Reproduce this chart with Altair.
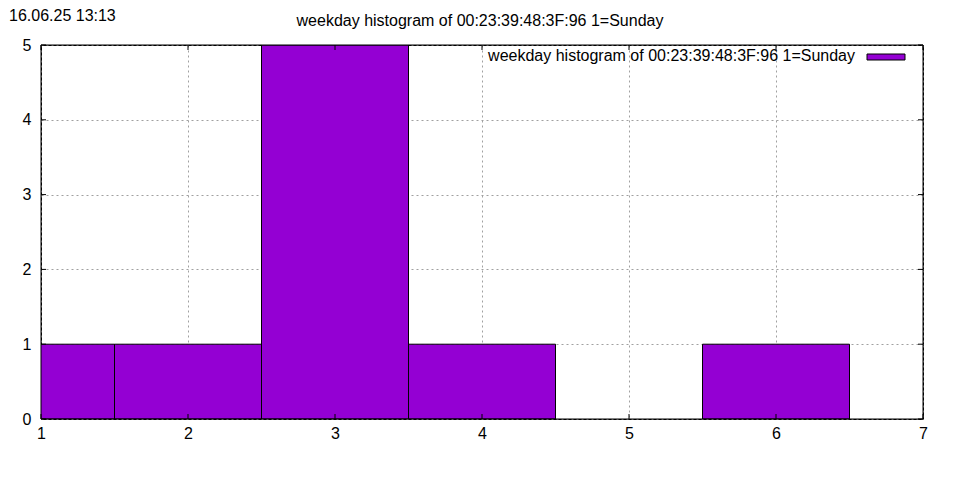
import altair as alt
import pandas as pd

weekdays = [1, 2, 3, 4, 5, 6, 7]
counts = [1, 1, 5, 1, 0, 1, 0]
x_ticks = [1, 2, 3, 4, 5, 6, 7]
y_ticks = [0, 1, 2, 3, 4, 5]
title_text = "weekday histogram of 00:23:39:48:3F:96 1=Sunday"
stamp_text = "16.06.25 13:13"

W, H = 882, 374
FONT = "Liberation Sans"
PURPLE = "#9400d3"

bars = pd.DataFrame({"day": weekdays, "count": counts})
bars = bars[bars["count"] > 0]

xs = alt.Scale(domain=[1, 7], nice=False, zero=False)
ys = alt.Scale(domain=[0, 5], nice=False)

base_x_axis = alt.Axis(values=x_ticks, format="d", title=None, labelFont=FONT, labelFontSize=16,
                       labelColor="black", ticks=False, domain=False, labelPadding=6,
                       labelFlush=False, labelOverlap=False,
                       grid=True, gridColor="#a0a0a0", gridDash=[2, 3], gridWidth=1)
base_y_axis = alt.Axis(values=y_ticks, format="d", title=None, labelFont=FONT, labelFontSize=16,
                       labelColor="black", ticks=False, domain=False, labelPadding=10,
                       labelFlush=False, labelOverlap=False,
                       grid=True, gridColor="#a0a0a0", gridDash=[2, 3], gridWidth=1)

bar_layer = alt.Chart(bars).transform_calculate(
    x0="datum.day - 0.5", x1="datum.day + 0.5"
).mark_rect(color=PURPLE, stroke="black", strokeWidth=1, clip=True).encode(
    x=alt.X("x0:Q", scale=xs, axis=base_x_axis),
    x2="x1:Q",
    y=alt.Y("count:Q", scale=ys, axis=base_y_axis),
    y2=alt.datum(0),
)

xt = pd.DataFrame({"v": x_ticks})
yt = pd.DataFrame({"v": y_ticks})
tick_len = 5
xticks_bottom = alt.Chart(xt).mark_rule(color="black", strokeWidth=1).encode(
    x=alt.X("v:Q", scale=xs), y=alt.value(H), y2=alt.value(H - tick_len))
xticks_top = alt.Chart(xt).mark_rule(color="black", strokeWidth=1).encode(
    x=alt.X("v:Q", scale=xs), y=alt.value(0), y2=alt.value(tick_len))
yticks_left = alt.Chart(yt).mark_rule(color="black", strokeWidth=1).encode(
    y=alt.Y("v:Q", scale=ys), x=alt.value(0), x2=alt.value(tick_len))
yticks_right = alt.Chart(yt).mark_rule(color="black", strokeWidth=1).encode(
    y=alt.Y("v:Q", scale=ys), x=alt.value(W), x2=alt.value(W - tick_len))

txt = pd.DataFrame({"t": [title_text]})
border = alt.Chart(txt).mark_rect(fillOpacity=0, stroke="black", strokeWidth=1).encode(
    x=alt.value(0), x2=alt.value(W), y=alt.value(0), y2=alt.value(H))
title_layer = alt.Chart(txt).mark_text(font=FONT, fontSize=16, align="center",
                                       baseline="middle", color="black").encode(
    text="t:N", x=alt.value(439), y=alt.value(-24))
stamp_layer = alt.Chart(pd.DataFrame({"t": [stamp_text]})).mark_text(
    font=FONT, fontSize=16, align="left", baseline="middle", color="black").encode(
    text="t:N", x=alt.value(-32), y=alt.value(-29))
legend_text = alt.Chart(txt).mark_text(font=FONT, fontSize=16, align="right",
                                       baseline="middle", color="black").encode(
    text="t:N", x=alt.value(814), y=alt.value(11))
legend_swatch = alt.Chart(txt).mark_rect(color=PURPLE, stroke="black", strokeWidth=1).encode(
    x=alt.value(826), x2=alt.value(864), y=alt.value(9), y2=alt.value(15))

chart = alt.layer(
    bar_layer, xticks_bottom, xticks_top, yticks_left, yticks_right, border,
    title_layer, stamp_layer, legend_text, legend_swatch
).properties(
    width=W, height=H,
    autosize=alt.AutoSizeParams(type="none"),
    padding={"left": 33, "top": 37, "right": 15, "bottom": 40},
    background="white",
).configure_view(stroke="black", strokeWidth=1)

chart.save("out.html", embed_options={"renderer": "svg", "actions": False})
